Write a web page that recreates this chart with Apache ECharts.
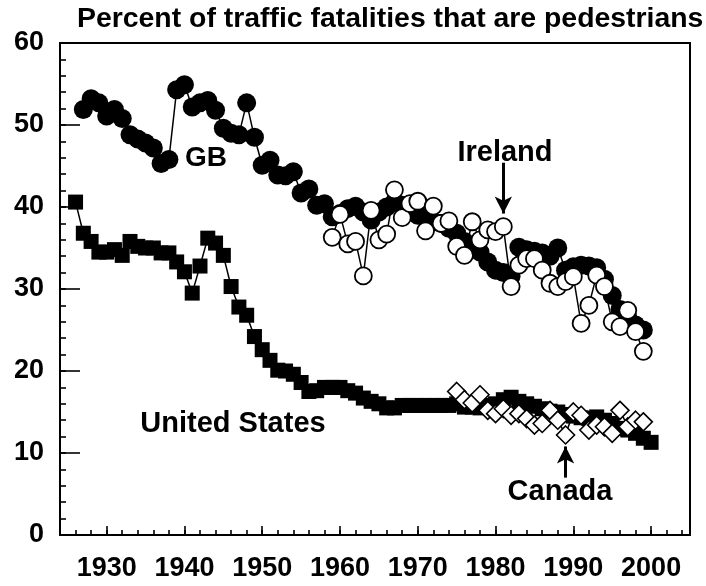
<!DOCTYPE html>
<html>
<head>
<meta charset="utf-8">
<script src="https://cdn.jsdelivr.net/npm/echarts@6/dist/echarts.min.js"></script>
<style>html,body{margin:0;padding:0;background:#fff}#c{width:706px;height:586px}</style>
</head>
<body>
<div id="c"></div>
<script>
// ---- data ----
const gbStart = 1927;
const gbValues = [51.9,53.2,52.7,51.1,51.9,50.8,48.8,48.3,47.8,47.2,
  45.3,45.8,54.3,54.9,52.2,52.7,53.0,51.8,49.6,49.0,
  48.8,52.7,48.5,45.1,45.7,43.9,43.8,44.3,41.7,42.2,
  40.2,40.4,38.8,39.2,39.8,40.1,39.4,38.4,39.4,40.0,
  40.6,40.2,39.8,39.0,38.7,38.2,38.0,37.4,36.8,35.8,
  35.3,34.5,33.3,32.3,32.0,31.6,35.1,34.8,34.6,34.4,
  34.0,35.0,32.3,32.7,32.9,32.8,32.6,31.2,29.2,27.5,
  26.6,25.6,25.0];
const usStart = 1926;
const usValues = [40.6,36.8,35.8,34.5,34.5,34.8,34.1,35.8,35.2,35.0,
  35.0,34.4,34.4,33.3,32.1,29.5,32.8,36.2,35.6,34.1,
  30.3,27.8,26.8,24.2,22.6,21.3,20.1,20.0,19.6,18.6,
  17.5,17.6,18.0,18.0,18.0,17.6,17.3,16.7,16.3,16.0,
  15.5,15.5,15.8,15.8,15.8,15.8,15.8,15.8,15.8,16.0,
  15.6,15.6,15.5,15.8,16.0,16.5,16.8,16.3,16.0,15.7,
  15.4,15.1,15.0,14.7,14.5,14.3,14.2,14.4,14.0,13.6,
  13.0,12.8,12.4,11.8,11.3];
const irelandStart = 1959;
const irelandValues = [36.3,39.1,35.5,35.8,31.6,39.6,36.0,36.7,42.1,38.7,
  40.4,40.7,37.1,40.1,38.0,38.3,35.2,34.1,38.2,36.0,
  37.2,37.0,37.6,30.3,32.9,33.7,33.7,32.3,30.7,30.3,
  30.9,31.5,25.8,28.0,31.7,30.3,26.0,25.4,27.4,24.8,
  22.4];
const canadaStart = 1975;
const canadaValues = [17.5,16.5,16.1,17.1,15.2,14.8,15.4,14.6,14.8,14.2,
  13.4,13.6,15.2,14.0,12.2,15.0,14.6,12.8,13.4,13.2,
  12.4,15.2,13.2,14.0,13.8];
const xTickLabels = [1930,1940,1950,1960,1970,1980,1990,2000];
const yTickLabels = [0,10,20,30,40,50,60];
const titleText = 'Percent of traffic fatalities that are pedestrians';
const irelandArrow = [[1981, 45.4], [1981, 39.2]];
const canadaArrow = [[1989, 7.0], [1989, 10.8]];

function pairs(start, vals) { return vals.map((v, i) => [start + i, v]); }

const FONT = 'Liberation Sans, Arial, Helvetica, sans-serif';
const chart = echarts.init(document.getElementById('c'), null, {renderer: 'canvas'});
const lbl = {color: '#000', fontWeight: 'bold', fontSize: 27, fontFamily: FONT};

chart.setOption({
  animation: false,
  backgroundColor: '#fff',
  title: {text: titleText, left: 72, top: 0,
    textStyle: {color: '#000', fontWeight: 'bold', fontSize: 28.4, fontFamily: FONT}},
  grid: {left: 60, top: 43, right: 16, bottom: 51, show: true, borderColor: '#000', borderWidth: 2, containLabel: false},
  xAxis: [
    {type: 'value', min: 1924, max: 2005, interval: 2, position: 'bottom',
      axisLine: {show: true, onZero: false, lineStyle: {color: '#000', width: 2}},
      axisTick: {show: true, inside: true, length: 5, lineStyle: {color: '#000', width: 1.6}},
      axisLabel: {show: false}, splitLine: {show: false}},
    {type: 'value', min: 1924, max: 2005, position: 'bottom',
      axisLine: {show: false, onZero: false},
      axisTick: {show: true, inside: true, length: 9, customValues: xTickLabels, lineStyle: {color: '#000', width: 1.6}},
      axisLabel: Object.assign({show: true, margin: 20, customValues: xTickLabels, formatter: v => String(v)}, lbl),
      splitLine: {show: false}}
  ],
  yAxis: [
    {type: 'value', min: 0, max: 60, interval: 2, position: 'left',
      axisLine: {show: true, onZero: false, lineStyle: {color: '#000', width: 2}},
      axisTick: {show: true, inside: true, length: 6, lineStyle: {color: '#000', width: 1.6}},
      axisLabel: {show: false}, splitLine: {show: false}},
    {type: 'value', min: 0, max: 60, position: 'left', offset: 0,
      axisLine: {show: false, onZero: false},
      axisTick: {show: true, inside: true, length: 20, customValues: yTickLabels, lineStyle: {color: '#000', width: 1.6}},
      axisLabel: Object.assign({show: true, margin: 16, customValues: yTickLabels, formatter: v => String(v)}, lbl),
      splitLine: {show: false}}
  ],
  series: [
    {name: 'GB', type: 'line', data: pairs(gbStart, gbValues), symbol: 'circle', symbolSize: 19,
      itemStyle: {color: '#000'}, lineStyle: {color: '#000', width: 1.5}, z: 2},
    {name: 'United States', type: 'line', data: pairs(usStart, usValues), symbol: 'rect', symbolSize: 15,
      itemStyle: {color: '#000'}, lineStyle: {color: '#000', width: 1.5}, z: 2},
    {name: 'Ireland', type: 'line', data: pairs(irelandStart, irelandValues), symbol: 'circle', symbolSize: 17,
      itemStyle: {color: '#fff', borderColor: '#000', borderWidth: 1.8}, lineStyle: {color: '#000', width: 1.5}, z: 3,
      markLine: {silent: true, symbol: ['none', 'arrow'], symbolSize: [13, 17], label: {show: false},
        lineStyle: {color: '#000', width: 3, type: 'solid'},
        data: [[{coord: irelandArrow[0]}, {coord: irelandArrow[1]}]]}},
    {name: 'Canada', type: 'line', data: pairs(canadaStart, canadaValues), symbol: 'diamond', symbolSize: 18,
      itemStyle: {color: '#fff', borderColor: '#000', borderWidth: 1.6}, lineStyle: {color: '#000', width: 1.5}, z: 3,
      markLine: {silent: true, symbol: ['none', 'arrow'], symbolSize: [13, 17], label: {show: false},
        lineStyle: {color: '#000', width: 3, type: 'solid'},
        data: [[{coord: canadaArrow[0]}, {coord: canadaArrow[1]}]]}}
  ],
  graphic: [
    {type: 'text', x: 206, y: 158, style: {text: 'GB', font: 'bold 28px ' + FONT, fill: '#000', textAlign: 'center', textVerticalAlign: 'middle'}},
    {type: 'text', x: 505, y: 153, style: {text: 'Ireland', font: 'bold 29px ' + FONT, fill: '#000', textAlign: 'center', textVerticalAlign: 'middle'}},
    {type: 'text', x: 233, y: 424, style: {text: 'United States', font: 'bold 29px ' + FONT, fill: '#000', textAlign: 'center', textVerticalAlign: 'middle'}},
    {type: 'text', x: 560, y: 492, style: {text: 'Canada', font: 'bold 29px ' + FONT, fill: '#000', textAlign: 'center', textVerticalAlign: 'middle'}}
  ]
});
</script>
</body>
</html>
